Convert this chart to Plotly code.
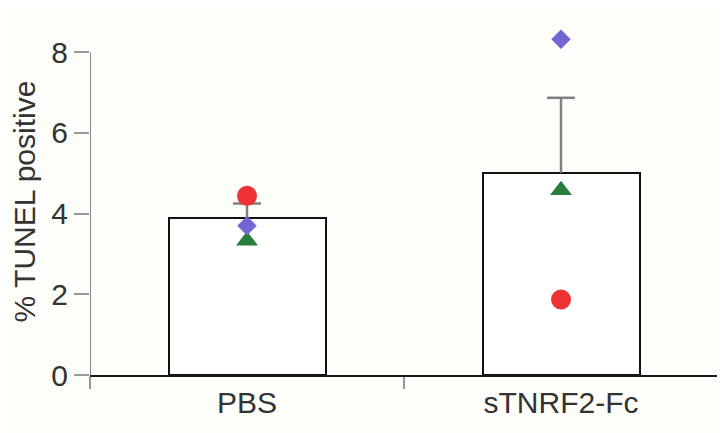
import plotly.graph_objects as go

categories = ["PBS", "sTNRF2-Fc"]
bar_means = [3.90, 5.01]
bar_sem = [0.35, 1.86]

red_circle = [4.44, 1.87]
purple_diamond = [3.70, 8.32]
green_triangle = [3.33, 4.58]

y_ticks = [0, 2, 4, 6, 8]
x_pos = list(range(len(categories)))
x_bounds = [-0.5, 0.5, 1.5]

err_color = "#808080"

fig = go.Figure()
fig.add_trace(go.Bar(
    x=x_pos, y=bar_means, width=0.5,
    marker=dict(color="white", line=dict(color="#111111", width=2)),
    error_y=dict(type="data", symmetric=False, array=bar_sem,
                 arrayminus=[0] * len(bar_sem),
                 color=err_color, thickness=2.5, width=0),
    showlegend=False, cliponaxis=False,
))

# top caps of the error bars only
fig.add_trace(go.Scatter(
    x=x_pos, y=[m + s for m, s in zip(bar_means, bar_sem)], mode="markers",
    marker=dict(symbol="line-ew", size=20, line=dict(color=err_color, width=2.5)),
    showlegend=False, cliponaxis=False, hoverinfo="skip",
))

for vals, sym, col, size in [
    (green_triangle, "triangle-up", "#2b7d3b", 19),
    (purple_diamond, "diamond", "#7466d2", 15),
    (red_circle, "circle", "#ee3236", 20),
]:
    fig.add_trace(go.Scatter(
        x=x_pos, y=vals, mode="markers",
        marker=dict(symbol=sym, color=col, size=size, line=dict(width=0)),
        showlegend=False, cliponaxis=False,
    ))

# y-axis spine drawn only up to the top tick
fig.add_shape(type="line", xref="x", yref="y",
              x0=x_bounds[0], x1=x_bounds[0], y0=0, y1=max(y_ticks),
              line=dict(color="#888888", width=2), layer="above")

font = "Liberation Sans, Arial, sans-serif"
# page body has an 8px margin; size the figure so the plot lands where the reference has it
fig.update_layout(
    width=717, height=425,
    margin=dict(l=82, r=7, t=20, b=58),
    paper_bgcolor="#fdfdf9", plot_bgcolor="#fdfdf9",
    font=dict(family=font, size=30, color="#333333"),
    bargap=0,
)
fig.update_xaxes(
    range=[x_bounds[0], x_bounds[-1]], tickmode="array", tickvals=x_pos, ticktext=categories,
    ticks="", showgrid=False, zeroline=False,
    showline=True, linecolor="#1a1a1a", linewidth=2,
    tickfont=dict(size=30, color="#333333"),
    minor=dict(tickvals=x_bounds, ticks="outside", ticklen=12,
               tickcolor="#999999", tickwidth=2, showgrid=False),
)
fig.update_yaxes(
    range=[0, 8.6], tickmode="array", tickvals=y_ticks,
    ticks="outside", ticklen=15, tickcolor="#999999", tickwidth=2,
    showgrid=False, zeroline=False, showline=False,
    tickfont=dict(size=30, color="#333333"),
    title=dict(text="% TUNEL positive", font=dict(size=30, color="#333333"), standoff=8),
)

fig.write_html("out.html")
